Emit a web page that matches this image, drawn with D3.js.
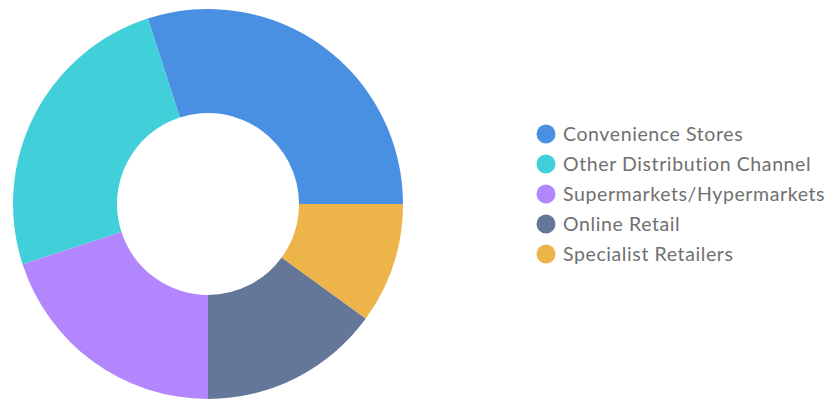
<!DOCTYPE html>
<html><head><meta charset="utf-8">
<script src="https://cdn.jsdelivr.net/npm/d3@7"></script>
<style>body{margin:0;background:#fff}svg{display:block}</style>
</head><body>
<svg id="c" width="828" height="400"></svg>
<script>
const categories = ["Convenience Stores","Other Distribution Channel","Supermarkets/Hypermarkets","Online Retail","Specialist Retailers"];
const values = [30,25,20,15,10];
const colors = ["#4a90e2","#41cfd9","#b286fd","#657799","#edb449"];

const svg = d3.select("#c");
const cx = 208, cy = 204, rOut = 195, rIn = 91;
const pie = d3.pie().sort(null).startAngle(Math.PI/2).endAngle(Math.PI/2 - 2*Math.PI);
const arc = d3.arc().innerRadius(rIn).outerRadius(rOut);
const g = svg.append("g").attr("transform",`translate(${cx},${cy})`);
g.selectAll("path").data(pie(values)).join("path")
  .attr("d",arc).attr("fill",(d,i)=>colors[i]);

const leg = svg.append("g").attr("transform","translate(546,134)");
const rows = leg.selectAll("g").data(categories).join("g")
  .attr("transform",(d,i)=>`translate(0,${i*30})`);
rows.append("circle").attr("r",9.5).attr("fill",(d,i)=>colors[i]);
rows.append("text").attr("x",17).attr("dy","0.35em")
  .attr("font-family","Lato, 'Open Sans', sans-serif").attr("font-size",19.5)
  .attr("letter-spacing","0.6px")
  .attr("fill","#707070").text(d=>d);
</script>
</body></html>
